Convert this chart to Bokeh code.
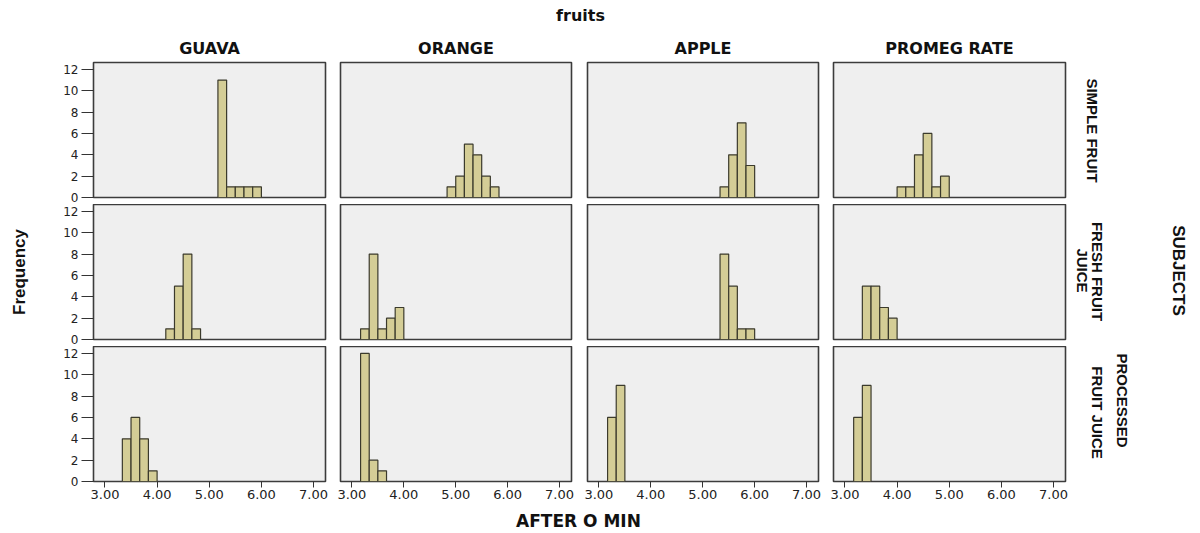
from bokeh.plotting import figure
from bokeh.layouts import column, row
from bokeh.models import Range1d, FixedTicker, PrintfTickFormatter, ColumnDataSource
from bokeh.core.properties import value
from bokeh.embed import file_html
from bokeh.resources import INLINE

# ---------------- data ----------------
fruits = ["GUAVA", "ORANGE", "APPLE", "PROMEG RATE"]
subject_lines = [["SIMPLE FRUIT"], ["FRESH FRUIT", "JUICE"], ["PROCESSED", "FRUIT JUICE"]]
x_ticks = [3.0, 4.0, 5.0, 6.0, 7.0]
y_ticks = [0, 2, 4, 6, 8, 10, 12]
bin_width = 1 / 6

# left edge of first bin, per fruit (GUAVA, ORANGE, APPLE, PROMEG RATE)
simple_starts = [5.1667, 4.8333, 5.3333, 4.0]
simple_counts = [[11, 1, 1, 1, 1], [1, 2, 5, 4, 2, 1], [1, 4, 7, 3], [1, 1, 4, 6, 1, 2]]
fresh_starts = [4.1667, 3.1667, 5.3333, 3.3333]
fresh_counts = [[1, 5, 8, 1], [1, 8, 1, 2, 3], [8, 5, 1, 1], [5, 5, 3, 2]]
processed_starts = [3.3333, 3.1667, 3.1667, 3.1667]
processed_counts = [[4, 6, 4, 1], [12, 2, 1], [6, 9], [6, 9]]

rows_data = [(simple_starts, simple_counts), (fresh_starts, fresh_counts),
             (processed_starts, processed_counts)]

# ---------------- style ----------------
BAR_FILL = "#d4cd96"
BAR_LINE = "#3b3a2c"
PANEL_BG = "#efefef"
OUTLINE = "#3c3c3c"
TICK_FONT = "DejaVu Sans"
HEAD_FONT = "DejaVu Sans"
VERT_FONT = "Liberation Sans"

frame_widths = [232, 231, 231, 232]
border_left = [93, 8, 8, 7]
border_right = [7, 8, 8, 10]
border_top = [32, 0, 0]
border_bottom = [7, 7, 24]
FRAME_H = 135


def blank(w, h):
    f = figure(width=w, height=h, x_range=Range1d(0, w), y_range=Range1d(0, h),
               output_backend="svg", toolbar_location=None,
               x_axis_location=None, y_axis_location=None,
               min_border=0, outline_line_color=None)
    f.grid.visible = False
    return f


def panel(r, c):
    p = figure(frame_width=frame_widths[c], frame_height=FRAME_H,
               x_range=Range1d(2.78, 7.23), y_range=Range1d(0, 12.65),
               output_backend="svg", toolbar_location=None,
               x_axis_location="below" if r == 2 else None,
               y_axis_location="left" if c == 0 else None,
               min_border_left=border_left[c], min_border_right=border_right[c],
               min_border_top=border_top[r], min_border_bottom=border_bottom[r])
    p.background_fill_color = PANEL_BG
    p.border_fill_color = "white"
    p.outline_line_color = OUTLINE
    p.outline_line_width = 1.6
    p.grid.visible = False
    starts, counts = rows_data[r]
    cnt = counts[c]
    left = [starts[c] + i * bin_width for i in range(len(cnt))]
    right = [l + bin_width for l in left]
    src = ColumnDataSource(dict(left=left, right=right, top=cnt, bottom=[0] * len(cnt)))
    p.quad(left="left", right="right", top="top", bottom="bottom", source=src,
           fill_color=BAR_FILL, line_color=BAR_LINE, line_width=1.2)
    if r == 2:
        ax = p.xaxis[0]
        ax.ticker = FixedTicker(ticks=x_ticks)
        ax.formatter = PrintfTickFormatter(format="%.2f")
        ax.axis_line_color = None
        ax.major_tick_in = 0
        ax.major_tick_out = 6
        ax.minor_tick_line_color = None
        ax.major_tick_line_color = "#333333"
        ax.major_label_text_font = TICK_FONT
        ax.major_label_text_font_size = "13px"
        ax.major_label_text_color = "#222222"
        ax.major_label_standoff = 2
    if c == 0:
        ay = p.yaxis[0]
        ay.ticker = FixedTicker(ticks=y_ticks)
        ay.formatter = PrintfTickFormatter(format="%d")
        ay.axis_line_color = None
        ay.major_tick_in = 0
        ay.major_tick_out = 12
        ay.minor_tick_line_color = None
        ay.major_tick_line_color = "#333333"
        ay.major_label_text_font = TICK_FONT
        ay.major_label_text_font_size = "12px"
        ay.major_label_text_color = "#222222"
        ay.major_label_standoff = 3
        if r == 1:
            ay.axis_label = "Frequency"
            ay.axis_label_text_font = VERT_FONT
            ay.axis_label_text_font_style = "bold"
            ay.axis_label_text_font_size = "17px"
            ay.axis_label_text_color = "#111111"
            ay.axis_label_standoff = 31
    if r == 0:
        p.title.text = fruits[c]
        p.title.align = "center"
        p.title.text_font = HEAD_FONT
        p.title.text_font_style = "bold"
        p.title.text_font_size = "16px"
        p.title.text_color = "#111111"
        p.title.standoff = 9
    return p


grid_rows = [row([panel(r, c) for c in range(4)], spacing=0) for r in range(3)]
grid = column(grid_rows, spacing=0)

# right-hand labels (row facets + SUBJECTS)
right_fig = blank(125, 475)
rl_x = [17, 22, 7, 47, 22]
rl_y = [375, 234, 235, 105, 93]
rl_text = [subject_lines[0][0], subject_lines[1][0], subject_lines[1][1],
           subject_lines[2][0], subject_lines[2][1]]
right_fig.text(x=rl_x, y=rl_y, text=rl_text, angle=-1.5708,
               text_font=value(VERT_FONT), text_font_style="bold",
               text_font_size="15px", text_color="#111111",
               text_align="center", text_baseline="middle")
right_fig.text(x=[103], y=[235], text=["SUBJECTS"], angle=-1.5708,
               text_font=value(VERT_FONT), text_font_style="bold",
               text_font_size="17px", text_color="#111111",
               text_align="center", text_baseline="middle")

top_fig = blank(1200, 30)
top_fig.text(x=[580], y=[15], text=["fruits"], text_font=value(HEAD_FONT),
             text_font_style="bold", text_font_size="16px", text_color="#111111",
             text_align="center", text_baseline="middle")

bottom_fig = blank(1200, 28)
bottom_fig.text(x=[578], y=[13], text=["AFTER O MIN"], text_font=value(HEAD_FONT),
                text_font_style="bold", text_font_size="17px", text_color="#111111",
                text_align="center", text_baseline="middle")

layout = column([top_fig, row([grid, right_fig], spacing=0), bottom_fig], spacing=0)

open("out.html", "w").write(file_html(layout, INLINE))
